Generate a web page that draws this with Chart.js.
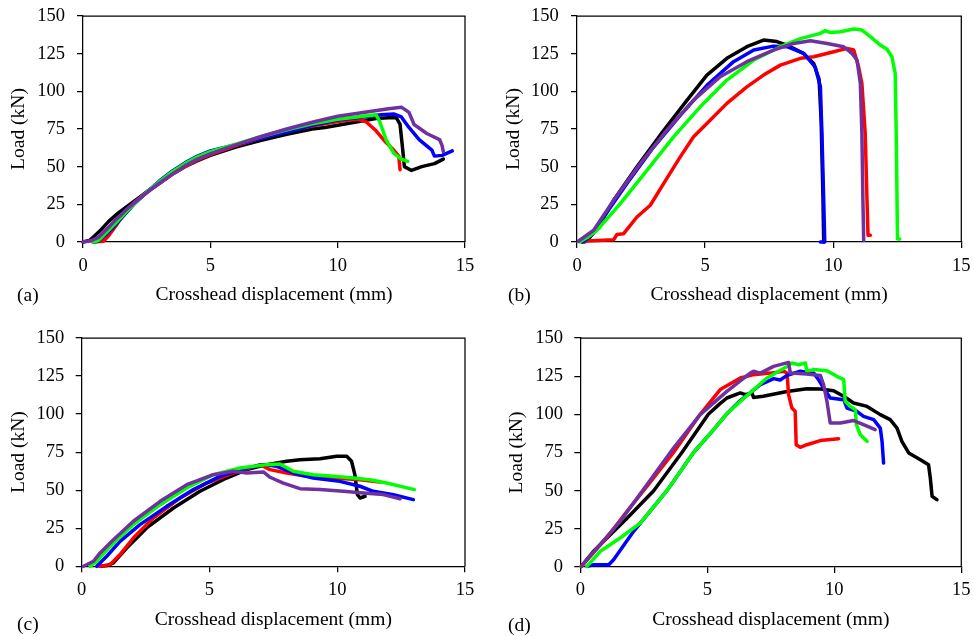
<!DOCTYPE html>
<html><head><meta charset="utf-8">
<script src="https://cdn.jsdelivr.net/npm/chart.js@4/dist/chart.umd.min.js"></script>
<style>
html,body{margin:0;padding:0;background:#fff;}
#wrap{position:relative;width:974px;height:636px;overflow:hidden;background:#fff;}
.pane{position:absolute;width:487px;height:318px;}
.pane canvas{display:block;}
.lbl{position:absolute;font-family:"Liberation Serif","Times New Roman",serif;font-size:19.5px;line-height:1;color:#000;white-space:nowrap;}
</style></head><body>
<div id="wrap">
  <div class="pane" style="left:0;top:0"><canvas id="ca" width="487" height="318" style="width:487px;height:318px"></canvas></div>
  <div class="pane" style="left:487px;top:0"><canvas id="cb" width="487" height="318" style="width:487px;height:318px"></canvas></div>
  <div class="pane" style="left:0;top:318px"><canvas id="cc" width="487" height="318" style="width:487px;height:318px"></canvas></div>
  <div class="pane" style="left:487px;top:318px"><canvas id="cd" width="487" height="318" style="width:487px;height:318px"></canvas></div>
  <div class="lbl" style="left:17px;top:285px">(a)</div>
  <div class="lbl" style="left:508px;top:285px">(b)</div>
  <div class="lbl" style="left:17px;top:614px">(c)</div>
  <div class="lbl" style="left:508px;top:615px">(d)</div>
</div>
<script>
// ---- axis ticks / titles ----
const xTicks = [0, 5, 10, 15];
const yTicks = [0, 25, 50, 75, 100, 125, 150];
const xTitle = 'Crosshead displacement (mm)';
const yTitle = 'Load (kN)';
const seriesNames = ['Specimen 1', 'Specimen 2', 'Specimen 3', 'Specimen 4', 'Specimen 5'];

// ---- panel (a) ----
const aBlack = [[0,0],[0.25,1],[0.45,4],[0.7,8],[1.0,13.5],[1.4,19.5],[1.8,24.5],[2.2,29.5],[2.6,34.5],[3,39],[3.5,45],[4,50],[4.5,54],[5,57.5],[6,63],[7,67.5],[8,71.5],[9,75],[9.5,76],[10,77.5],[11,80.5],[11.5,82],[12,82.5],[12.3,82.5],[12.45,78],[12.55,62],[12.62,50],[12.9,47.5],[13.3,50],[13.8,52],[14.15,55]];
const aRed = [[0.4,0],[0.8,0.5],[1.0,4],[1.3,11],[1.6,18.5],[2.0,26],[2.5,33],[3,39],[3.5,45],[4,50],[4.5,54.5],[5,58],[6,64],[7,69],[8,73.5],[9,77],[10,80],[10.8,81.5],[11.1,80],[11.5,74],[11.9,66],[12.2,61],[12.4,57],[12.45,48]];
const aBlue = [[0.4,0],[0.6,0.5],[0.9,5],[1.2,10],[1.6,17.5],[2,25],[2.5,33],[3,40.5],[3.5,47],[4,52.5],[4.5,57],[5,60.5],[6,64.5],[7,69],[8,73],[9,77.5],[10,81],[11,83],[11.7,84.5],[12.2,85],[12.5,83],[12.8,76],[13.2,68],[13.7,61],[13.8,57],[14.1,57.5],[14.5,60.5]];
const aGreen = [[0.4,0],[0.6,1],[0.9,6],[1.3,13],[1.7,20],[2.2,28.5],[2.6,34.5],[3,40],[3.5,46.5],[4,52],[4.5,56.5],[5,60],[6,65],[7,70],[8,74.5],[9,78.5],[10,81.5],[11,83.5],[11.5,84.5],[11.65,80],[11.9,68],[12.2,59],[12.5,55],[12.75,53.5]];
const aPurple = [[0,0],[0.3,0.8],[0.6,3],[0.9,8],[1.3,15],[1.8,23],[2.3,30],[2.6,34],[3,39],[3.5,45],[4,50.5],[4.5,55],[5,58.5],[6,64.5],[7,70],[8,75],[9,79.5],[10,83.5],[11,86],[12,88.5],[12.5,89.5],[12.8,86],[13,78],[13.5,72],[14,68],[14.1,64],[14.15,60]];

// ---- panel (b) ----
const bBlack = [[0.2,0],[0.5,3],[0.9,12],[1.43,27.7],[2.34,50],[3.38,74],[4.29,94],[5.07,110.8],[5.85,121.9],[6.63,129.6],[7.28,134],[7.8,133],[8.2,130.7],[8.85,125],[9.24,118.5],[9.45,108],[9.53,80],[9.6,30],[9.63,0]];
const bRed = [[0.3,0],[0.39,0.7],[1.43,1.5],[1.56,5],[1.82,5.5],[2.34,16.6],[2.86,24.4],[3.38,38.8],[4.03,56.5],[4.55,69.8],[5.07,78.7],[5.85,92],[6.63,103],[7.28,110.8],[7.94,117.4],[8.72,121.9],[9.24,123],[10.02,126.3],[10.54,128.5],[10.8,127.4],[10.99,116.3],[11.12,105.2],[11.25,72],[11.32,27.7],[11.36,4.4],[11.45,4.4]];
const bBlue = [[0.25,0],[0.6,5],[1.04,16.6],[1.95,38.8],[2.99,63],[4.03,84],[5.07,104],[6.11,119.7],[6.9,127.4],[7.67,130],[8.2,129.6],[8.85,125.2],[9.3,116],[9.5,103],[9.56,72],[9.63,27.7],[9.67,0],[9.5,0]];
const bGreen = [[0.1,0],[0.4,3],[0.78,7.8],[1.69,25.5],[2.73,47.6],[3.77,69.8],[4.81,89.7],[5.85,107.5],[6.9,120.8],[7.94,129.6],[8.72,135],[9.5,138.5],[9.69,140.3],[9.89,139],[10.28,139.5],[10.8,141.4],[11.12,140.7],[11.45,136.3],[11.84,130.7],[12.1,127.9],[12.29,123],[12.42,112],[12.46,72],[12.51,2],[12.6,2]];
const bPurple = [[0.05,0.5],[0.65,7.8],[1.43,27.7],[2.47,52],[3.51,74.2],[4.55,94.2],[5.59,109.7],[6.63,119.7],[7.67,127.4],[8.46,131.8],[9.11,133.6],[9.76,131.8],[10.41,129.6],[10.73,125.2],[10.93,120.8],[11.06,105.2],[11.12,72],[11.16,27.7],[11.19,1]];

// ---- panel (c) ----
const cBlack = [[0.72,0],[1.0,0.5],[1.24,2.2],[1.76,12],[2.54,25.2],[3.59,38.3],[4.63,49.3],[5.67,58],[6.46,63.5],[7.24,66.8],[8.02,69],[8.54,70],[9.33,70.7],[9.98,72.3],[10.37,72.3],[10.56,69],[10.69,60.2],[10.79,47],[10.89,44.9],[11.09,46]];
const cRed = [[0.7,0],[1.11,1.1],[1.5,7.7],[2.02,18.6],[2.8,31.7],[3.85,44.9],[4.89,54.7],[5.93,61.3],[6.98,66.8],[7.37,63.5],[8.02,61.3],[8.8,59.1],[9.85,58],[10.89,56.9],[11.67,55.4]];
const cBlue = [[0.59,0],[0.98,6.6],[1.5,16.4],[2.28,27.4],[3.33,39.4],[4.37,50.4],[5.41,59.1],[6.46,64.6],[7.11,66.8],[7.63,65.7],[8.28,61.3],[9.06,58],[10.1,55.8],[10.89,52.6],[11.41,49.3],[12.2,47],[12.98,43.8]];
const cGreen = [[0.33,0],[0.59,3.3],[1.11,13.1],[2.02,27.4],[3.07,40.5],[4.11,51.5],[5.15,60.2],[6.2,64.6],[7.24,66.8],[7.76,67.2],[8.28,62.4],[9.06,60.2],[9.85,59.1],[10.63,58],[11.28,56.9],[11.93,54.7],[13.02,50.4]];
const cPurple = [[0.07,0],[0.46,3.3],[0.72,8.8],[1.24,17.5],[2.02,29.6],[3.07,42.7],[4.11,53.6],[5.15,60.2],[5.93,62.4],[6.46,61.3],[7.11,62],[7.37,58.5],[7.89,54.7],[8.54,51],[9.33,50.4],[10.24,49.3],[11.02,48.2],[11.8,47.1],[12.46,44.4]];

// ---- panel (d) ----
const dBlack = [[0.04,0.4],[0.52,10.3],[1.05,19],[1.84,32],[2.89,50],[4.0,75],[5.04,100],[5.5,107],[5.77,110.7],[6.3,114],[6.5,112.9],[6.76,114],[6.82,111],[7.2,111.8],[8.14,115],[8.92,116.8],[9.45,116.6],[9.97,115.5],[10.37,111.8],[10.76,107.4],[11.29,105.2],[11.81,99.8],[12.2,96.5],[12.47,91],[12.66,82.3],[12.93,74.7],[13.39,70.3],[13.71,67],[13.78,58.3],[13.85,46.3],[14.04,44.1]];
const dRed = [[0.04,0.4],[0.52,9.5],[1.05,19.5],[1.84,36.5],[2.49,50],[3.67,75],[4.72,100],[5.51,116.2],[6.3,123.8],[6.82,126],[7.48,127],[8.01,128.2],[8.14,127],[8.2,112.9],[8.33,104.1],[8.46,102],[8.5,80],[8.66,78.4],[8.92,80.1],[9.45,82.8],[10.17,84]];
const dBlue = [[0.26,0.4],[0.52,1.5],[1.12,1.5],[1.31,4.8],[2.1,23.4],[3.41,50],[4.46,75],[5.25,90],[5.75,100],[6.3,109],[7.09,119.4],[7.61,123.4],[7.87,122.5],[8.14,125.5],[8.66,128.2],[9.19,127],[9.38,122.7],[9.58,117.2],[9.84,110.7],[10.37,109.6],[10.5,104.1],[10.89,102],[11.15,98.7],[11.55,96.5],[11.81,91],[11.88,82.3],[11.94,68.1]];
const dGreen = [[0.26,0.4],[0.79,10.3],[1.57,19],[2.36,28.8],[3.41,50],[4.46,75],[5.25,90],[5.75,100],[6.3,108.5],[7.35,123.8],[8.14,131.4],[8.33,133.6],[8.6,132.5],[8.86,133.6],[8.92,128.2],[9.19,129.3],[9.71,128.6],[10.1,124.9],[10.37,122.7],[10.43,108.5],[10.63,105.2],[10.83,103],[10.87,93.2],[11.02,86.7],[11.29,82.3]];
const dPurple = [[0.04,0.4],[0.66,12.4],[1.57,29.9],[2.62,53.9],[3.67,77.9],[4.72,99.8],[5.77,115],[6.69,127],[6.82,128.2],[7.09,127],[7.61,131.4],[8.2,134],[8.27,127],[8.92,126.4],[9.45,125.5],[9.58,119.4],[9.71,108.5],[9.84,94.3],[10.24,94.3],[10.76,95.9],[11.15,93.2],[11.61,90]];

const COLORS = ['#000000', '#ff0000', '#0000ff', '#00ff00', '#7030a0'];
const SERIF = '"Liberation Serif","Times New Roman",serif';
const AXIS_W = 1.25;

// draws the top and right edges of the plot frame
const framePlugin = {
  id: 'plotFrame',
  afterDraw(chart) {
    const ctx = chart.ctx;
    const x = chart.scales.x, y = chart.scales.y;
    const l = x.left, r = x.right, t = y.top, b = y.bottom;
    ctx.save();
    ctx.strokeStyle = '#000';
    ctx.lineWidth = AXIS_W;
    ctx.beginPath();
    ctx.moveTo(l, t);
    ctx.lineTo(r, t);
    ctx.lineTo(r, b);
    ctx.stroke();
    ctx.restore();
  }
};
Chart.register(framePlugin);

function makeChart(id, series, L) {
  const toPts = arr => arr.map(p => ({x: p[0], y: p[1]}));
  const datasets = series.map((s, i) => ({
    label: seriesNames[i],
    data: toPts(s),
    showLine: true,
    borderColor: COLORS[i],
    backgroundColor: COLORS[i],
    borderWidth: 3.5,
    pointRadius: 0,
    tension: 0,
    borderJoinStyle: 'round',
    borderCapStyle: 'round',
    fill: false,
    clip: false,
    order: series.length - 1 - i
  }));
  return new Chart(document.getElementById(id), {
    type: 'scatter',
    data: {datasets},
    options: {
      responsive: false,
      animation: false,
      events: [],
      layout: {padding: {top: L.padTop, right: L.padRight, left: 0, bottom: 0}},
      plugins: {legend: {display: false}, tooltip: {enabled: false}},
      scales: {
        x: {
          type: 'linear',
          position: 'bottom',
          min: xTicks[0], max: xTicks[xTicks.length - 1],
          afterBuildTicks: sc => { sc.ticks = xTicks.map(v => ({value: v})); },
          afterFit: sc => { sc.height = L.xHeight; sc.paddingLeft = 0; sc.paddingRight = 0; },
          grid: {drawOnChartArea: false, drawTicks: true, tickLength: 6, color: '#000', lineWidth: AXIS_W},
          border: {display: true, color: '#000', width: AXIS_W},
          ticks: {color: '#000', padding: L.xTickPad, font: {family: SERIF, size: 18.5}, maxRotation: 0, autoSkip: false},
          title: {display: true, text: xTitle, color: '#000', font: {family: SERIF, size: 19.5}, padding: {top: 0, bottom: L.xTitlePad}}
        },
        y: {
          type: 'linear',
          position: 'left',
          min: yTicks[0], max: yTicks[yTicks.length - 1],
          afterBuildTicks: sc => { sc.ticks = yTicks.map(v => ({value: v})); },
          afterFit: sc => { sc.width = L.yWidth; sc.paddingTop = 0; sc.paddingBottom = 0; },
          grid: {drawOnChartArea: false, drawTicks: true, tickLength: 6, color: '#000', lineWidth: AXIS_W},
          border: {display: true, color: '#000', width: AXIS_W},
          ticks: {color: '#000', padding: L.yTickPad, font: {family: SERIF, size: 18.5}, autoSkip: false},
          title: {display: true, text: yTitle, color: '#000', font: {family: SERIF, size: 19.5}, padding: {top: L.yTitlePad, bottom: 0}}
        }
      }
    }
  });
}

makeChart('ca', [aBlack, aRed, aBlue, aGreen, aPurple],
  {padTop: 16, padRight: 22, xHeight: 76, yWidth: 83, yTickPad: 12, yTitlePad: 7.3, xTickPad: 6.6, xTitlePad: 11.3});
makeChart('cb', [bBlack, bRed, bBlue, bGreen, bPurple],
  {padTop: 16, padRight: 12.7, xHeight: 76, yWidth: 90, yTickPad: 12.3, yTitlePad: 15, xTickPad: 6.6, xTitlePad: 11.3});
makeChart('cc', [cBlack, cRed, cBlue, cGreen, cPurple],
  {padTop: 20, padRight: 22, xHeight: 69.7, yWidth: 81.7, yTickPad: 11.4, yTitlePad: 7.3, xTickPad: 6.9, xTitlePad: 4.6});
makeChart('cd', [dBlack, dRed, dBlue, dGreen, dPurple],
  {padTop: 20, padRight: 12.7, xHeight: 69, yWidth: 93.3, yTickPad: 11.3, yTitlePad: 18.3, xTickPad: 6.2, xTitlePad: 4.6});
</script>
</body></html>
